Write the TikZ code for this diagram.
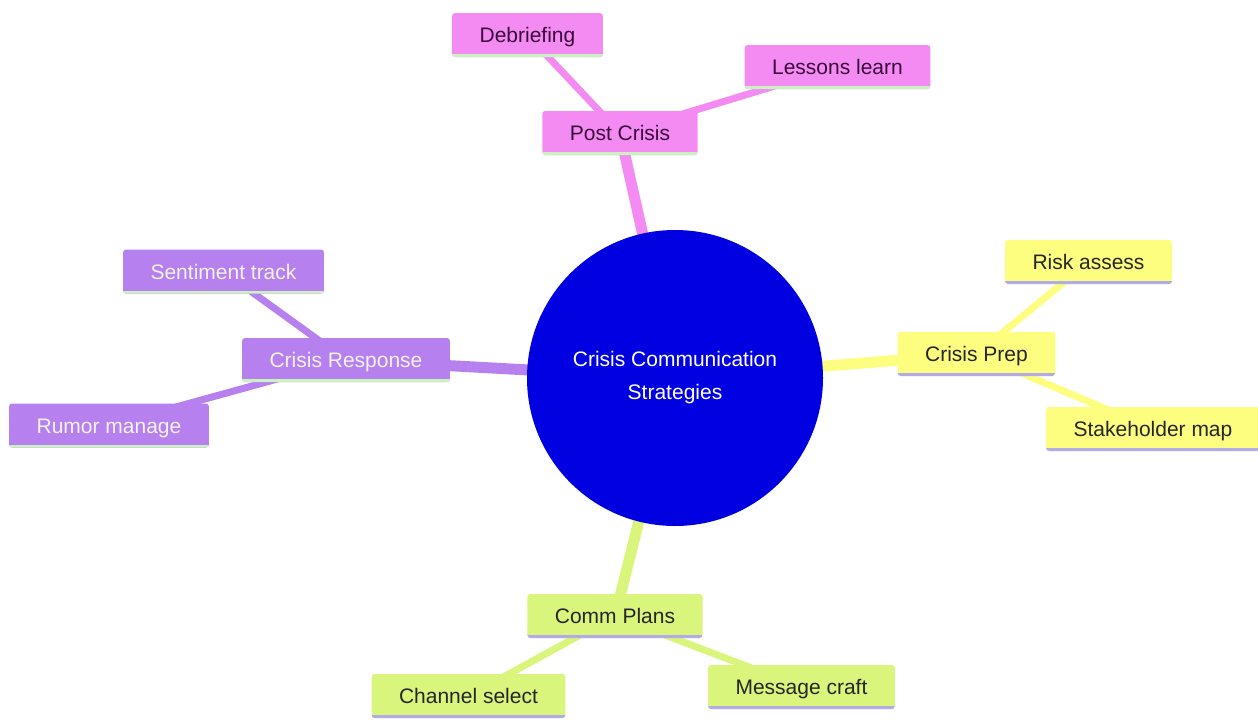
\documentclass[tikz,border=0pt]{standalone}
\usepackage{fontspec}
\setmainfont{Liberation Sans}
\usetikzlibrary{backgrounds}
\definecolor{pinkc}{HTML}{F38BF3}
\definecolor{purpc}{HTML}{B681EE}
\definecolor{yellc}{HTML}{FDFD80}
\definecolor{grnc}{HTML}{D9F57C}
\definecolor{lgrn}{HTML}{C9F2C0}
\definecolor{lav}{HTML}{B3ABE8}
\definecolor{rootc}{HTML}{0000E0}
\definecolor{pinktxt}{HTML}{3A0A3A}
\tikzset{
  mbox/.style={rectangle, rounded corners=3pt, inner xsep=27.5pt, inner ysep=0pt,
    minimum height=44pt, text height=17pt, text depth=2pt,
    font=\fontsize{21}{25}\selectfont},
  uline/.style={path picture={\draw[line width=6pt,#1]
    (path picture bounding box.south west) -- (path picture bounding box.south east);}},
  pinkbox/.style={mbox, fill=pinkc, text=pinktxt, uline=lgrn},
  purpbox/.style={mbox, fill=purpc, text=white!95!black, uline=lgrn},
  yellbox/.style={mbox, fill=yellc, text=black!85, uline=lav},
  grnbox/.style={mbox, fill=grnc, text=black!85, uline=lav},
  mainedge/.style={line width=11pt, draw=#1},
  subedge/.style={line width=7pt, draw=#1},
}
\begin{document}
\begin{tikzpicture}[x=1pt,y=-1pt]
\useasboundingbox (0,0) rectangle (1258,720);
\node[circle, fill=rootc, minimum size=296pt, text=white, align=center,
  font=\fontsize{21}{33}\selectfont] (root) at (675,378) {Crisis Communication\\Strategies};
% section nodes
\node[pinkbox] (post) at (620,133) {Post Crisis};
\node[pinkbox] (debr) at (527.5,35) {Debriefing};
\node[pinkbox] (less) at (837.5,67) {Lessons learn};
\node[purpbox] (resp) at (346,360) {Crisis Response};
\node[purpbox] (sent) at (223.5,271.5) {Sentiment track};
\node[purpbox] (rumo) at (109,425.5) {Rumor manage};
\node[yellbox] (prep) at (976.5,354) {Crisis Prep};
\node[yellbox] (risk) at (1088.5,262) {Risk assess};
\node[yellbox] (stak) at (1153,429) {Stakeholder map};
\node[grnbox] (comm) at (615,616) {Comm Plans};
\node[grnbox] (chan) at (468.5,696) {Channel select};
\node[grnbox] (mess) at (801.5,687) {Message craft};
% edges behind
\begin{scope}[on background layer]
\fill[white] (0,0) rectangle (1258,720);
\draw[mainedge=pinkc] (root.center) -- (post.center);
\draw[subedge=pinkc] (post.center) -- (debr.center);
\draw[subedge=pinkc] (post.center) -- (less.center);
\draw[mainedge=purpc] (root.center) -- (resp.center);
\draw[subedge=purpc] (resp.center) -- (sent.center);
\draw[subedge=purpc] (resp.center) -- (rumo.center);
\draw[mainedge=yellc] (root.center) -- (prep.center);
\draw[subedge=yellc] (prep.center) -- (risk.center);
\draw[subedge=yellc] (prep.center) -- (stak.center);
\draw[mainedge=grnc] (root.center) -- (comm.center);
\draw[subedge=grnc] (comm.center) -- (chan.center);
\draw[subedge=grnc] (comm.center) -- (mess.center);
\end{scope}
\end{tikzpicture}
\end{document}
